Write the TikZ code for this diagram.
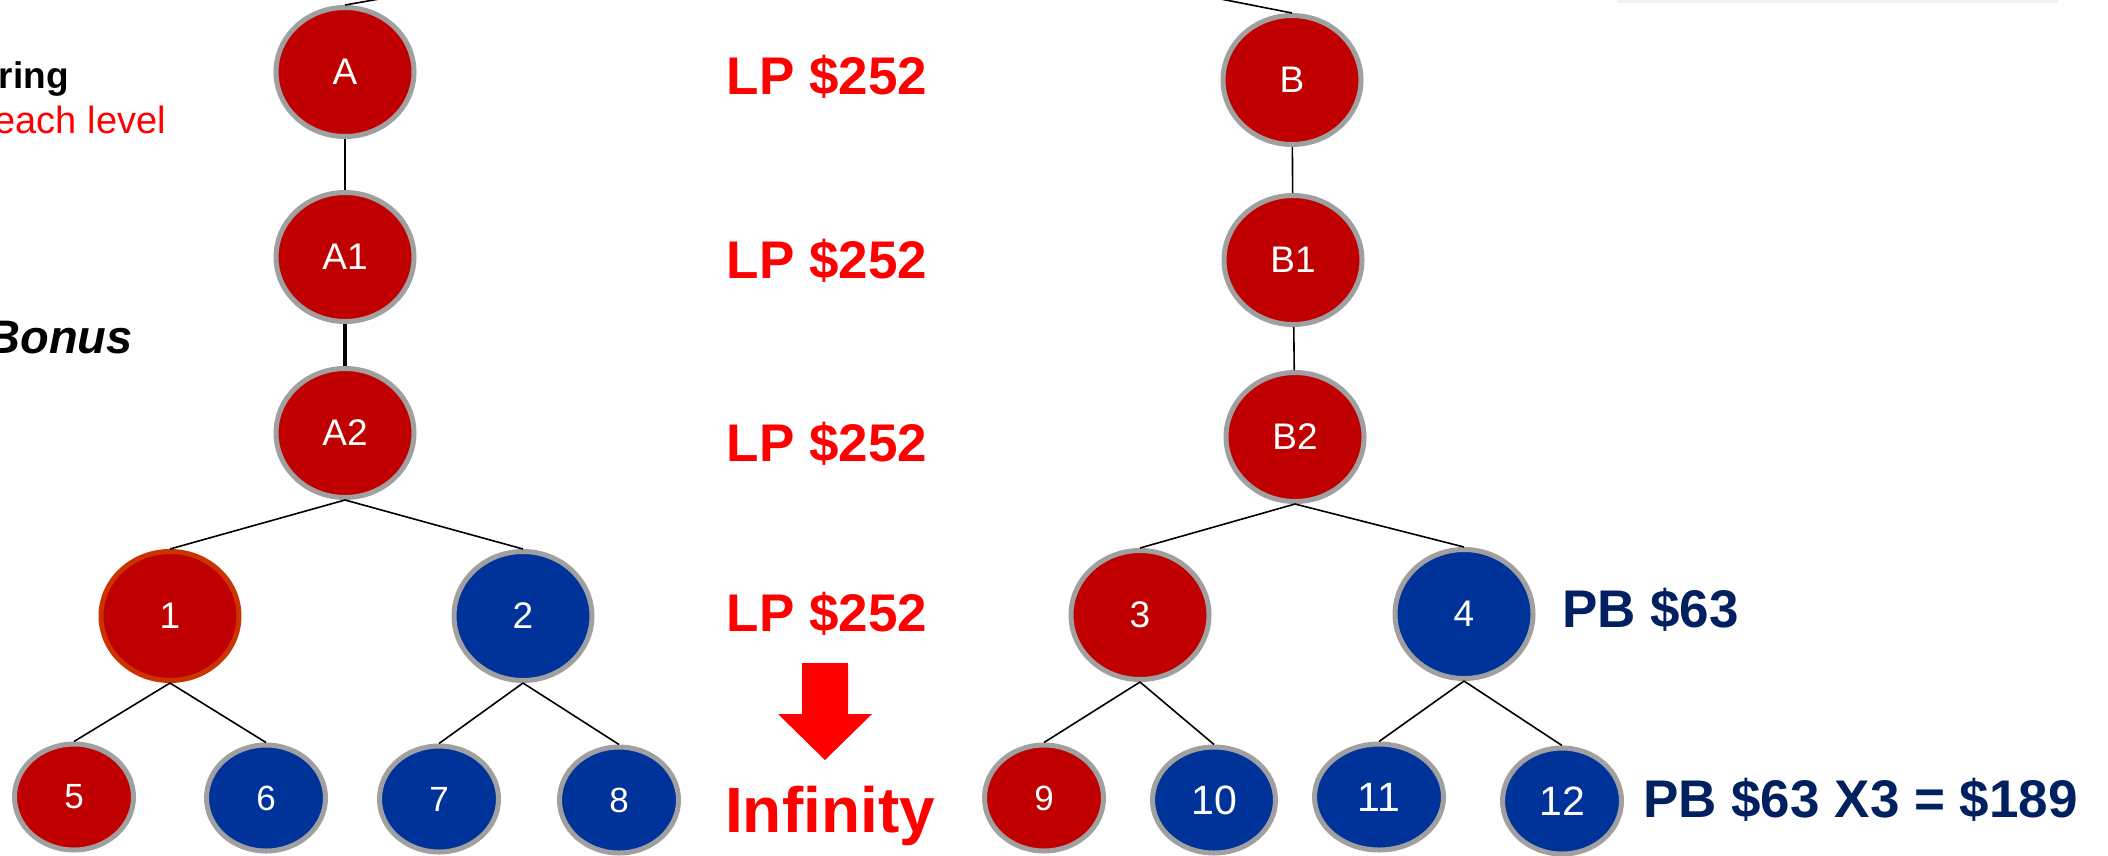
\documentclass[tikz,border=0pt]{standalone}
\usepackage{fontspec}
\setmainfont{Liberation Sans}
\usetikzlibrary{shapes,positioning}
\definecolor{nodered}{RGB}{192,0,0}
\definecolor{nodeblue}{RGB}{0,51,153}
\definecolor{rimgrey}{RGB}{160,160,160}
\definecolor{rimorange}{RGB}{204,51,0}
\definecolor{navy}{RGB}{0,32,96}
\def \fs #1{\fontsize{#1}{#1}\selectfont}

\begin{document}
\begin{tikzpicture}[x=1pt,y=-1pt,
    tnode/.style={ellipse,draw=rimgrey,line width=5pt,text=white,inner sep=0pt,
      minimum width=138pt,minimum height=129pt,font=\fs{37}},
    rnode/.style={tnode,fill=nodered},
    bnode/.style={tnode,fill=nodeblue},
    leaf/.style={minimum width=119pt,minimum height=106pt,font=\fs{35}},
    lp/.style={text=red,font=\bfseries\fs{53},inner sep=0pt,anchor=base},
    pb/.style={text=navy,font=\bfseries\fs{53},inner sep=0pt,anchor=base west},
    side/.style={inner sep=0pt,anchor=base east},
    link/.style={line width=1.6pt}]
    \useasboundingbox (0,0) rectangle (2108,855);
    \clip (0,0) rectangle (2108,855);
    \fill[black!5] (1617,0) rectangle (2059,3);

    % left tree
    \node[rnode] (A) at (345,72) {A};
    \node[rnode] (A1) at (345,257) {A1};
    \node[rnode] (A2) at (345,433) {A2};
    \node[rnode,draw=rimorange] (n1) at (170,616) {1};
    \node[bnode] (n2) at (523,616) {2};
    \node[rnode,leaf] (n5) at (74,797) {5};
    \node[bnode,leaf] (n6) at (266,798) {6};
    \node[bnode,leaf] (n7) at (439,799) {7};
    \node[bnode,leaf] (n8) at (619,800) {8};

    % right tree
    \node[rnode] (B) at (1292,80) {B};
    \node[rnode] (B1) at (1293,260) {B1};
    \node[rnode] (B2) at (1295,437) {B2};
    \node[rnode] (n3) at (1140,615) {3};
    \node[bnode] (n4) at (1464,614) {4};
    \node[rnode,leaf] (n9) at (1044,798) {9};
    \node[bnode,leaf,font=\fs{41},minimum width=123pt] (n10) at (1214,800) {10};
    \node[bnode,leaf,font=\fs{41},minimum width=129pt] (n11) at (1379,797) {11};
    \node[bnode,leaf,font=\fs{41}] (n12) at (1562,801) {12};

    \coordinate (pA) at (425,-9);
    \coordinate (pB) at (1180,-9);
    \draw[link] (A.north) -- (pA);
    \draw[link] (B.north) -- (pB);
    \draw[link] (A) -- (A1);
    \draw[line width=4pt] (A1) -- (A2);
    \draw[link] (A2.south) -- (n1.north);
    \draw[link] (A2.south) -- (n2.north);
    \draw[link] (n1.south) -- (n5.north);
    \draw[link] (n1.south) -- (n6.north);
    \draw[link] (n2.south) -- (n7.north);
    \draw[link] (n2.south) -- (n8.north);
    \draw[link] (B) -- (B1);
    \draw[link] (B1) -- (B2);
    \draw[link] (B2.south) -- (n3.north);
    \draw[link] (B2.south) -- (n4.north);
    \draw[link] (n3.south) -- (n9.north);
    \draw[link] (n3.south) -- (n10.north);
    \draw[link] (n4.south) -- (n11.north);
    \draw[link] (n4.south) -- (n12.north);

    % labels
    \node[side,font=\bfseries\fs{37}] (ring) at (69,88) {ring};
    \node[side,text=red,font=\fs{38}] (level) at (166,133) {each level};
    \node[side,font=\bfseries\itshape\fs{47}] (bonus) at (133,353) {Bonus};
    \foreach \y/\n in {94/1,278/2,461/3,631/4}
      \node[lp] (lp\n) at (827,\y) {LP \$252};
    \fill[red] (802,663) -- (848,663) -- (848,714) -- (872,714) -- (825,760)
      -- (778,714) -- (802,714) -- cycle;
    \node[lp,font=\bfseries\fs{64}] (inf) at (830,832) {Infinity};
    \node[pb] (pb1) at (1562,627) {PB \$63};
    \node[pb] (pb2) at (1643,817) {PB \$63 X3 = \$189};
\end{tikzpicture}
\end{document}
